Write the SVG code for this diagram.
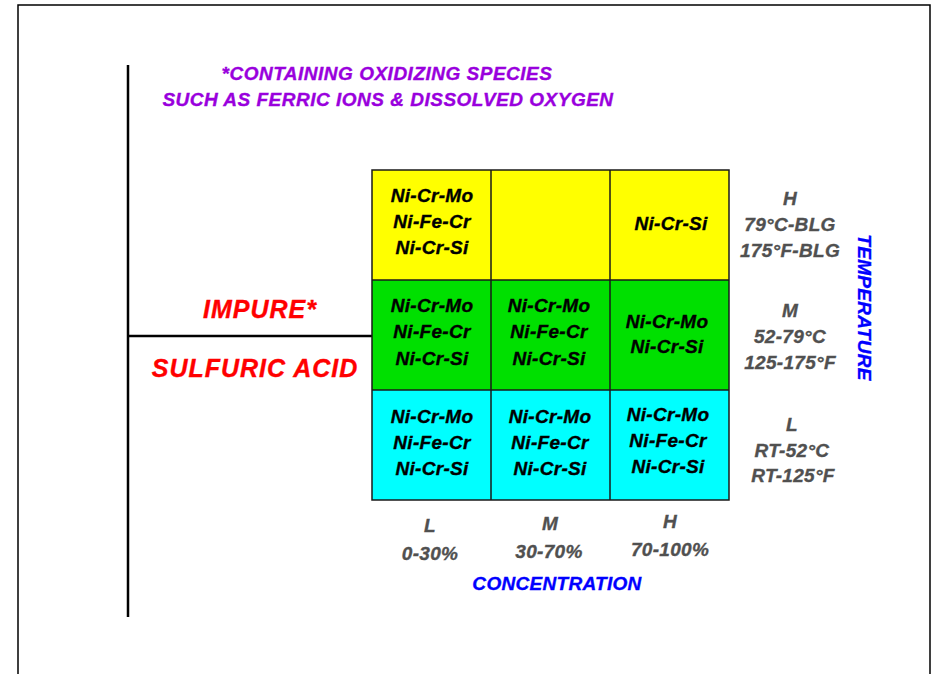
<svg xmlns="http://www.w3.org/2000/svg" width="938" height="674" viewBox="0 0 938 674">
<style>
  text { font-family: "Liberation Sans", Arial, sans-serif; font-weight: bold; font-style: italic; stroke-width: 0.35px; }
  .cell { font-size: 19px; fill: #000; stroke: #000; text-anchor: middle; letter-spacing: 0.3px; }
  .lab { font-size: 19px; fill: #505050; stroke: #505050; text-anchor: middle; letter-spacing: 0.3px; }
  .axis { font-size: 19px; fill: #0000FF; stroke: #0000FF; text-anchor: middle; letter-spacing: 0.3px; }
  .note { font-size: 19px; fill: #9900DD; stroke: #9900DD; text-anchor: middle; letter-spacing: 0.5px; }
  .title { font-size: 25px; fill: #FF0000; stroke: #FF0000; text-anchor: middle; letter-spacing: 1px; }
  .grid { stroke: #1a1a1a; stroke-width: 1.5; }
  .line { stroke: #000; stroke-width: 2.5; fill: none; }
</style>
<rect width="938" height="674" fill="#FFFFFF"/>
<path d="M18 680 V5 H930 V680" fill="none" stroke="#000" stroke-width="1.5"/>

<g id="connectors">
  <line class="line" x1="128" y1="65" x2="128" y2="617"/>
  <line class="line" x1="128" y1="336" x2="372" y2="336"/>
</g>

<g id="note">
  <text class="note" x="387" y="80">*CONTAINING OXIDIZING SPECIES</text>
  <text class="note" x="388" y="106">SUCH AS FERRIC IONS &amp; DISSOLVED OXYGEN</text>
</g>

<g id="title">
  <text class="title" x="260" y="318">IMPURE*</text>
  <text class="title" x="255" y="377">SULFURIC ACID</text>
</g>

<g id="grid">
  <rect x="372" y="170" width="357" height="110" fill="#FFFF00"/>
  <rect x="372" y="280" width="357" height="110" fill="#00E000"/>
  <rect x="372" y="390" width="357" height="110" fill="#00FFFF"/>
  <rect class="grid" x="372" y="170" width="357" height="330" fill="none"/>
  <line class="grid" x1="372" y1="280" x2="729" y2="280"/>
  <line class="grid" x1="372" y1="390" x2="729" y2="390"/>
  <line class="grid" x1="491" y1="170" x2="491" y2="500"/>
  <line class="grid" x1="610" y1="170" x2="610" y2="500"/>
</g>

<g id="cell-H-L">
  <text class="cell" x="432" y="202">Ni-Cr-Mo</text>
  <text class="cell" x="432" y="228">Ni-Fe-Cr</text>
  <text class="cell" x="432" y="254">Ni-Cr-Si</text>
</g>
<g id="cell-H-H">
  <text class="cell" x="671" y="230">Ni-Cr-Si</text>
</g>
<g id="cell-M-L">
  <text class="cell" x="432" y="312">Ni-Cr-Mo</text>
  <text class="cell" x="432" y="338">Ni-Fe-Cr</text>
  <text class="cell" x="432" y="365">Ni-Cr-Si</text>
</g>
<g id="cell-M-M">
  <text class="cell" x="549" y="312">Ni-Cr-Mo</text>
  <text class="cell" x="549" y="338">Ni-Fe-Cr</text>
  <text class="cell" x="549" y="365">Ni-Cr-Si</text>
</g>
<g id="cell-M-H">
  <text class="cell" x="667" y="328">Ni-Cr-Mo</text>
  <text class="cell" x="667" y="353">Ni-Cr-Si</text>
</g>
<g id="cell-L-L">
  <text class="cell" x="432" y="423">Ni-Cr-Mo</text>
  <text class="cell" x="432" y="449">Ni-Fe-Cr</text>
  <text class="cell" x="432" y="475">Ni-Cr-Si</text>
</g>
<g id="cell-L-M">
  <text class="cell" x="550" y="423">Ni-Cr-Mo</text>
  <text class="cell" x="550" y="449">Ni-Fe-Cr</text>
  <text class="cell" x="550" y="475">Ni-Cr-Si</text>
</g>
<g id="cell-L-H">
  <text class="cell" x="668" y="421">Ni-Cr-Mo</text>
  <text class="cell" x="668" y="447">Ni-Fe-Cr</text>
  <text class="cell" x="668" y="473">Ni-Cr-Si</text>
</g>

<g id="temp-labels">
  <text class="lab" x="790" y="205">H</text>
  <text class="lab" x="790" y="231">79°C-BLG</text>
  <text class="lab" x="790" y="257">175°F-BLG</text>
  <text class="lab" x="790" y="317">M</text>
  <text class="lab" x="790" y="343">52-79°C</text>
  <text class="lab" x="790" y="369">125-175°F</text>
  <text class="lab" x="792" y="431">L</text>
  <text class="lab" x="792" y="457">RT-52°C</text>
  <text class="lab" x="793" y="482">RT-125°F</text>
</g>

<g id="temp-axis">
  <text class="axis" transform="translate(858,307.5) rotate(90)">TEMPERATURE</text>
</g>

<g id="conc-labels">
  <text class="lab" x="430" y="532">L</text>
  <text class="lab" x="430" y="560">0-30%</text>
  <text class="lab" x="550" y="530">M</text>
  <text class="lab" x="549" y="558">30-70%</text>
  <text class="lab" x="670" y="528">H</text>
  <text class="lab" x="670" y="556">70-100%</text>
</g>

<g id="conc-axis">
  <text class="axis" x="557" y="590">CONCENTRATION</text>
</g>
</svg>
